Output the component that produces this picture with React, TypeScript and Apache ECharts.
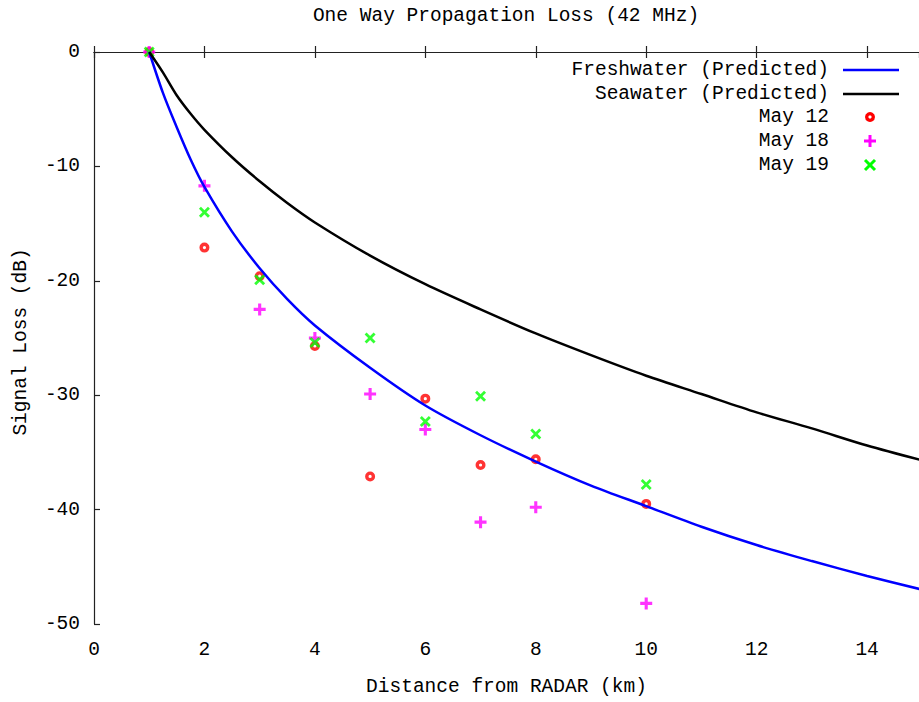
import React, { useEffect, useRef } from "react";
import * as echarts from "echarts";

const TITLE = "One Way Propagation Loss (42 MHz)";
const X_NAME = "Distance from RADAR (km)";
const Y_NAME = "Signal Loss (dB)";

const curveX = [1, 1.25, 1.5, 1.75, 2, 2.5, 3, 3.5, 4, 5, 6, 7, 8, 9, 10, 11, 12, 13, 14, 15];
const freshwater = [0, -3.6, -6.6, -9.4, -11.8, -15.7, -18.9, -21.6, -23.9, -27.6, -30.9, -33.5, -35.8, -37.9, -39.7, -41.5, -43.1, -44.5, -45.8, -47.0];
const seawater = [0, -1.8, -3.8, -5.4, -6.8, -9.2, -11.3, -13.2, -14.9, -17.8, -20.3, -22.5, -24.6, -26.5, -28.3, -29.9, -31.5, -32.9, -34.4, -35.7];

const measX = [1, 2, 3, 4, 5, 6, 7, 8, 10];
const may12 = [0, -17.1, -19.6, -25.7, -37.1, -30.3, -36.1, -35.6, -39.5];
const may18 = [0, -11.7, -22.5, -25.0, -29.9, -33.0, -41.1, -39.8, -48.2];
const may19 = [0, -14.0, -19.9, -25.4, -25.0, -32.3, -30.1, -33.4, -37.8];

const legendNames = ["Freshwater (Predicted)", "Seawater (Predicted)", "May 12", "May 18", "May 19"];

const FONT = "'Liberation Mono', 'DejaVu Sans Mono', monospace";
const FS = 19.5;
const PLUS = "path://M3.7,0H6.3V3.7H10V6.3H6.3V10H3.7V6.3H0V3.7H3.7Z";
const CROSS = "path://M0,1.8L1.8,0L5,3.2L8.2,0L10,1.8L6.8,5L10,8.2L8.2,10L5,6.8L1.8,10L0,8.2L3.2,5Z";
const RING = "path://M0,5A5,5 0 1,0 10,5A5,5 0 1,0 0,5ZM3.4,5A1.6,1.6 0 1,1 6.6,5A1.6,1.6 0 1,1 3.4,5Z";

const pairs = (xs: number[], ys: number[]) => xs.map((x, i) => [x, ys[i]]);

export default function App() {
  const ref = useRef<HTMLDivElement>(null);
  useEffect(() => {
    if (!ref.current) return;
    const chart = echarts.init(ref.current, undefined, { renderer: "svg" });
    const rowY = [70, 94, 117, 141, 165];
    const textRight = 829;
    const legendGraphics: any[] = [];
    legendNames.forEach((name, i) => {
      legendGraphics.push({
        type: "text",
        x: textRight,
        y: rowY[i],
        style: { text: name, font: `${FS}px ${FONT}`, fill: "#000", align: "right", verticalAlign: "middle" },
      });
    });
    legendGraphics.push({ type: "line", shape: { x1: 843, y1: rowY[0], x2: 899, y2: rowY[0] }, style: { stroke: "#0000ff", lineWidth: 2.5 } });
    legendGraphics.push({ type: "line", shape: { x1: 843, y1: rowY[1], x2: 899, y2: rowY[1] }, style: { stroke: "#000", lineWidth: 2.5 } });
    legendGraphics.push({ type: "circle", shape: { cx: 870, cy: rowY[2], r: 3.3 }, style: { stroke: "#ff0000", lineWidth: 3.4, fill: "#fff" } });
    legendGraphics.push({ type: "line", shape: { x1: 864, y1: rowY[3], x2: 876, y2: rowY[3] }, style: { stroke: "#ff00ff", lineWidth: 3 } });
    legendGraphics.push({ type: "line", shape: { x1: 870, y1: rowY[3] - 6, x2: 870, y2: rowY[3] + 6 }, style: { stroke: "#ff00ff", lineWidth: 3 } });
    legendGraphics.push({ type: "line", shape: { x1: 865, y1: rowY[4] - 5, x2: 875, y2: rowY[4] + 5 }, style: { stroke: "#00ff00", lineWidth: 3 } });
    legendGraphics.push({ type: "line", shape: { x1: 865, y1: rowY[4] + 5, x2: 875, y2: rowY[4] - 5 }, style: { stroke: "#00ff00", lineWidth: 3 } });

    const axisLine = { show: true, lineStyle: { color: "#222", width: 1.2 } };
    const axisTick = { show: true, inside: true, length: 6, lineStyle: { color: "#222", width: 1.2 } };
    const axisLabel = { color: "#000", fontFamily: FONT, fontSize: FS };

    chart.setOption({
      animation: false,
      backgroundColor: "#fff",
      grid: { left: 94, top: 52, right: 0, bottom: 75, containLabel: false },
      graphic: [
        {
          type: "text",
          x: 506,
          y: 16,
          style: { text: TITLE, font: `${FS}px ${FONT}`, fill: "#000", align: "center", verticalAlign: "middle" },
        },
        ...legendGraphics,
      ],
      xAxis: [
        {
          type: "value",
          min: 0,
          max: 14.94,
          interval: 2,
          position: "bottom",
          name: X_NAME,
          nameLocation: "middle",
          nameGap: 53,
          nameTextStyle: { color: "#000", fontFamily: FONT, fontSize: FS },
          axisLine,
          axisTick,
          axisLabel: { ...axisLabel, margin: 16, showMaxLabel: false },
          splitLine: { show: false },
        },
        {
          type: "value",
          min: 0,
          max: 14.94,
          interval: 2,
          position: "top",
          axisLine,
          axisTick,
          axisLabel: { show: false },
          splitLine: { show: false },
        },
      ],
      yAxis: {
        type: "value",
        min: -50,
        max: 0,
        interval: 10,
        name: Y_NAME,
        nameLocation: "middle",
        nameGap: 63,
        nameRotate: 90,
        nameTextStyle: { color: "#000", fontFamily: FONT, fontSize: FS, padding: [0, 8, 0, 0] },
        axisLine,
        axisTick,
        axisLabel: { ...axisLabel, margin: 14 },
        splitLine: { show: false },
      },
      series: [
        {
          name: legendNames[0],
          type: "line",
          data: pairs(curveX, freshwater),
          showSymbol: false,
          smooth: 0.3,
          lineStyle: { color: "#0000ff", width: 2.5 },
          itemStyle: { color: "#0000ff" },
        },
        {
          name: legendNames[1],
          type: "line",
          data: pairs(curveX, seawater),
          showSymbol: false,
          smooth: 0.3,
          lineStyle: { color: "#000", width: 2.5 },
          itemStyle: { color: "#000" },
        },
        {
          name: legendNames[2],
          type: "scatter",
          data: pairs(measX, may12),
          symbol: RING,
          symbolSize: 10,
          itemStyle: { color: "#ff0000" },
        },
        {
          name: legendNames[3],
          type: "scatter",
          data: pairs(measX, may18),
          symbol: PLUS,
          symbolSize: 12,
          itemStyle: { color: "#ff00ff" },
        },
        {
          name: legendNames[4],
          type: "scatter",
          data: pairs(measX, may19),
          symbol: CROSS,
          symbolSize: 11,
          itemStyle: { color: "#00ff00" },
        },
      ],
    });
    return () => chart.dispose();
  }, []);
  return (
    <div
      ref={ref}
      style={{ position: "fixed", left: 0, top: 0, width: 919, height: 702, background: "#fff" }}
    />
  );
}
